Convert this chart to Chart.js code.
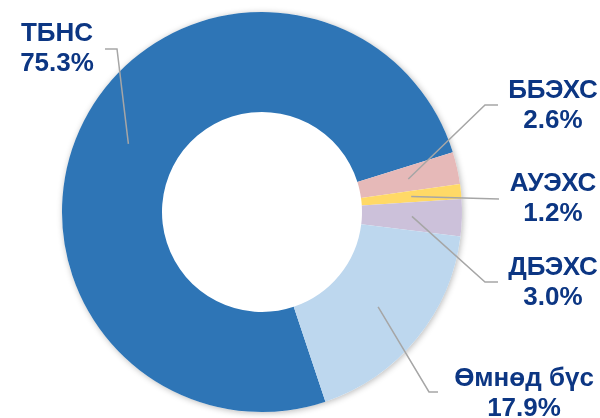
<!DOCTYPE html>
<html>
<head>
<meta charset="utf-8">
<script src="https://cdn.jsdelivr.net/npm/chart.js@4.4.0/dist/chart.umd.min.js"></script>
<style>
  html, body { margin: 0; padding: 0; background: #fff; }
  canvas { display: block; }
</style>
</head>
<body>
<canvas id="shareChart" width="600" height="418"></canvas>
<script>
// Data
const labels = ['ТБНС', 'ББЭХС', 'АУЭХС', 'ДБЭХС', 'Өмнөд бүс'];
const shares = [75.3, 2.6, 1.2, 3.0, 17.9];
const percentLabels = ['75.3%', '2.6%', '1.2%', '3.0%', '17.9%'];
const colors = ['#2E75B6', '#E6B9B8', '#FFD966', '#CCC1DA', '#BDD7EE'];

// Label layout: text center, elbow point, end of leader
const labelPos = [
    { x: 57, y: 34, elbow: [117, 49], end: [105, 49] },
    { x: 553, y: 91, elbow: [485, 105], end: [498, 105] },
    { x: 553, y: 184, elbow: null, end: [499, 199] },
    { x: 553, y: 268, elbow: [485, 282], end: [498, 282] },
    { x: 524, y: 379, elbow: [429, 392], end: [438, 392] }
];

// Shadow under the ring
const ringShadow = {
    id: 'ringShadow',
    beforeDatasetsDraw(chart) {
        const arc = chart.getDatasetMeta(0).data[0];
        if (!arc) return;
        const ctx = chart.ctx;
        ctx.save();
        ctx.shadowColor = 'rgba(0,0,0,0.28)';
        ctx.shadowBlur = 6;
        ctx.shadowOffsetX = 1;
        ctx.shadowOffsetY = 1;
        ctx.fillStyle = '#fff';
        ctx.beginPath();
        ctx.arc(arc.x, arc.y, arc.outerRadius, 0, Math.PI * 2);
        ctx.fill();
        ctx.restore();
    }
};

// Leader lines + labels
const calloutLabels = {
    id: 'calloutLabels',
    afterDatasetsDraw(chart) {
        const ctx = chart.ctx;
        const meta = chart.getDatasetMeta(0);
        meta.data.forEach((arc, i) => {
            const p = arc.tooltipPosition();
            const lp = labelPos[i];
            ctx.save();
            ctx.strokeStyle = '#A6A6A6';
            ctx.lineWidth = 1.5;
            ctx.beginPath();
            ctx.moveTo(p.x, p.y);
            if (lp.elbow) ctx.lineTo(lp.elbow[0], lp.elbow[1]);
            ctx.lineTo(lp.end[0], lp.end[1]);
            ctx.stroke();

            ctx.fillStyle = '#0C3683';
            ctx.font = 'bold 26px "Liberation Sans", Arial, sans-serif';
            ctx.textAlign = 'center';
            ctx.textBaseline = 'middle';
            ctx.fillText(labels[i], lp.x, lp.y);
            ctx.fillText(percentLabels[i], lp.x, lp.y + 30);
            ctx.restore();
        });
    }
};

new Chart(document.getElementById('shareChart'), {
    type: 'doughnut',
    data: {
        labels: labels,
        datasets: [{
            data: shares,
            backgroundColor: colors,
            borderWidth: 0
        }]
    },
    options: {
        responsive: false,
        animation: false,
        cutout: '50%',
        rotation: 161.5,
        layout: { padding: { left: 62, right: 138, top: 12, bottom: 6 } },
        plugins: {
            legend: { display: false },
            tooltip: { enabled: false }
        }
    },
    plugins: [ringShadow, calloutLabels]
});
</script>
</body>
</html>
